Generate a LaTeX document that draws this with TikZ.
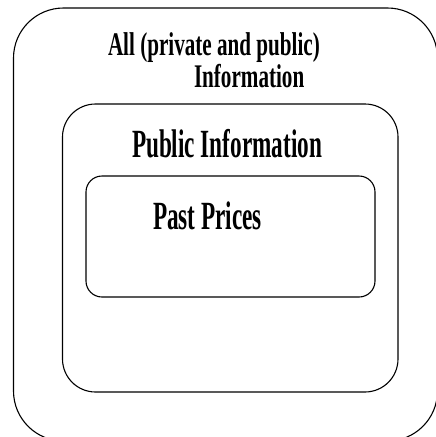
\documentclass[tikz,border=0pt]{standalone}
\usepackage{fontspec}
\setmainfont{Liberation Serif}
% condensed heavy serif faces for the set labels
\newfontfamily\outerfont{Liberation Serif}[FakeStretch=0.64]
\newfontfamily\innerfont{Liberation Serif}[FakeStretch=0.58]
\begin{document}
\begin{tikzpicture}[x=1pt,y=-1pt,
  setbox/.style={draw=black,line width=1.1pt},
  lbl/.style={anchor=base west,inner sep=0pt,outer sep=0pt},
  outerlbl/.style={lbl,font=\outerfont\bfseries\fontsize{33}{35}\selectfont},
  innerlbl/.style={lbl,font=\innerfont\bfseries\fontsize{40}{42}\selectfont}]
\useasboundingbox (0,0) rectangle (436,437);
\begin{scope}
\clip (0,0) rectangle (436,437);
% outermost set: all information
\draw[setbox,rounded corners=50pt] (13.5,8) rectangle (437.5,441);
\end{scope}
% public information
\draw[setbox,rounded corners=33pt] (62.5,104) rectangle (398,392);
% past prices
\draw[setbox,rounded corners=16pt] (86,176) rectangle (375,297);
\node[outerlbl] (all) at (108,55) {All (private and public)};
\node[outerlbl] (info) at (194,87) {Information};
\node[innerlbl] (pub) at (132,157) {Public Information};
\node[innerlbl] (past) at (153,229) {Past Prices};
\end{tikzpicture}
\end{document}
